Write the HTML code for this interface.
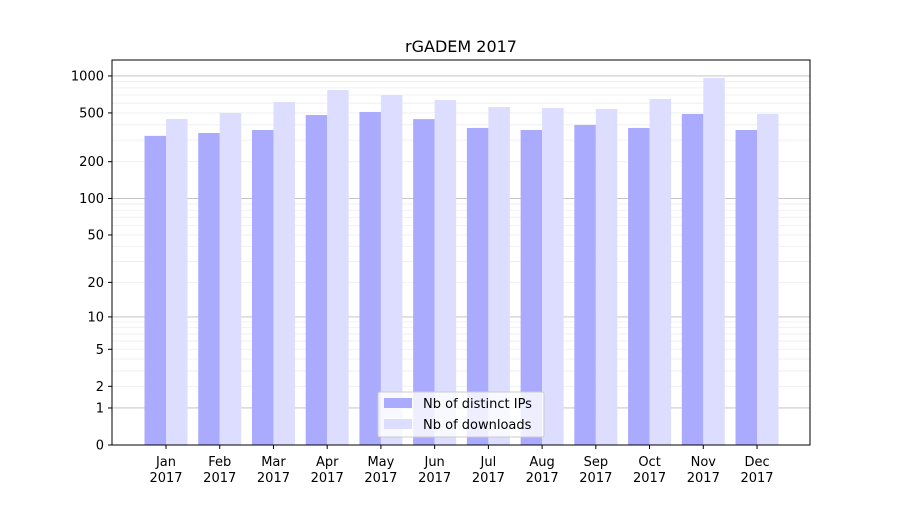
<!DOCTYPE html>
<html><head><meta charset="utf-8"><style>
body{margin:0;background:#fff;font-family:"Liberation Sans","DejaVu Sans",sans-serif}
</style></head><body>
<svg width="900" height="500" xmlns="http://www.w3.org/2000/svg" font-family="DejaVu Sans, Liberation Sans, sans-serif">
<rect width="900" height="500" fill="#fff"/>
<text x="461" y="52" font-size="16" text-anchor="middle">rGADEM 2017</text>
<g id="grid"></g><g id="bars"></g><g id="axes"></g>
<rect x="112" y="60" width="698" height="385" fill="none" stroke="#000" stroke-width="1"/>
<g>
<rect x="378" y="392" width="166" height="45" fill="#fff" fill-opacity="0.8" stroke="#ccc" rx="2"/>
<rect x="384" y="398" width="28" height="10" fill="#aaaaff"/>
<text x="423" y="408" font-size="13">Nb of distinct IPs</text>
<rect x="384" y="419" width="28" height="10" fill="#ddddff"/>
<text x="423" y="429" font-size="13">Nb of downloads</text>
</g>
</svg>
<script>
const months=["Jan","Feb","Mar","Apr","May","Jun","Jul","Aug","Sep","Oct","Nov","Dec"];
const ips=[325,343,363,481,509,445,377,363,399,377,490,363];
const downloads=[446,500,614,768,700,637,558,549,538,649,963,490];
const yTicks=[0,1,2,5,10,20,50,100,200,500,1000];
const NS="http://www.w3.org/2000/svg";
function y(v){return 445-123*Math.log10(1+v);}
function x(i){return 166+i*53.73;}
function mk(t,a,p){const e=document.createElementNS(NS,t);for(const k in a)e.setAttribute(k,a[k]);p.appendChild(e);return e;}
const grid=document.getElementById('grid'),bars=document.getElementById('bars'),axes=document.getElementById('axes');
for(let d=0;d<4;d++){for(let m=1;m<10;m++){const v=m*Math.pow(10,d);if(v>1300)break;
const l=mk('line',{x1:112,x2:810,y1:y(v),y2:y(v),stroke:m==1?'#bbb':'#eee','stroke-width':m==1?0.9:0.8},grid);
}}
const bw=21.5;
months.forEach((mo,i)=>{
const a=mk('rect',{x:x(i)-bw,y:y(ips[i]),width:bw,height:445-y(ips[i]),fill:'#aaaaff'},bars);

const b=mk('rect',{x:x(i),y:y(downloads[i]),width:bw,height:445-y(downloads[i]),fill:'#ddddff'},bars);

mk('line',{x1:x(i),x2:x(i),y1:445,y2:449,stroke:'#000'},axes);
const t=mk('text',{x:x(i),y:466,'font-size':13,'text-anchor':'middle'},axes);t.textContent=mo;

const t2=mk('text',{x:x(i),y:482,'font-size':13,'text-anchor':'middle'},axes);t2.textContent='2017';

});
yTicks.forEach(v=>{
mk('line',{x1:108,x2:112,y1:y(v),y2:y(v),stroke:'#000'},axes);
const t=mk('text',{x:104,y:y(v)+4.5,'font-size':13,'text-anchor':'end'},axes);t.textContent=v;

});
</script>
</body></html>
